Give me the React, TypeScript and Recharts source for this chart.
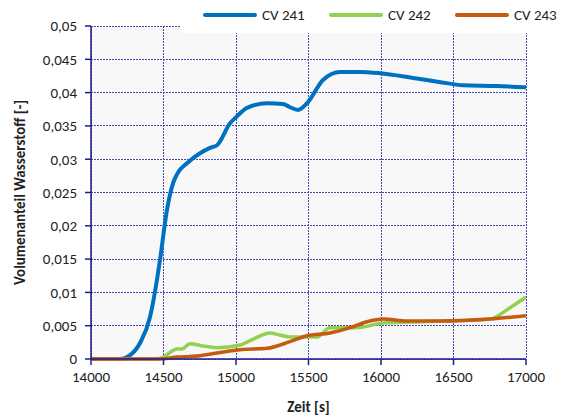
import React from "react";
import {
  LineChart,
  Line,
  XAxis,
  YAxis,
  CartesianGrid,
} from "recharts";

const cv241Time = [14000, 14200, 14250, 14338, 14407, 14455, 14476, 14524, 14566, 14600, 14662, 14752, 14821, 14869, 14959, 15000, 15076, 15214, 15324, 15372, 15428, 15490, 15600, 15717, 15855, 15993, 16221, 16400, 16566, 16800, 17000];
const cv241Vals = [0, 0, 0.0003, 0.0024, 0.0063, 0.0119, 0.0149, 0.0224, 0.0264, 0.028, 0.0294, 0.0309, 0.0317, 0.0321, 0.0354, 0.0363, 0.0377, 0.0384, 0.0383, 0.0378, 0.0374, 0.0384, 0.0419, 0.0431, 0.0431, 0.0429, 0.0422, 0.0416, 0.0411, 0.041, 0.0408];

const cv242Time = [14000, 14450, 14500, 14593, 14628, 14683, 14760, 14869, 15028, 15120, 15234, 15300, 15372, 15559, 15648, 15834, 16014, 16290, 16600, 16752, 16890, 17000];
const cv242Vals = [0, 0, 0.0003, 0.0015, 0.0015, 0.0023, 0.002, 0.0017, 0.0021, 0.003, 0.0039, 0.0036, 0.0033, 0.0033, 0.0047, 0.0047, 0.0054, 0.0056, 0.0058, 0.006, 0.0077, 0.0093];

const cv243Time = [14000, 14480, 14593, 14704, 14869, 15028, 15214, 15372, 15490, 15648, 15786, 15903, 16014, 16179, 16407, 16752, 17000];
const cv243Vals = [0, 0, 0.0003, 0.0004, 0.0009, 0.0014, 0.0016, 0.0026, 0.0035, 0.0039, 0.0047, 0.0056, 0.006, 0.0057, 0.0057, 0.006, 0.0065];

const xTicks = [14000, 14500, 15000, 15500, 16000, 16500, 17000];
const yTicks = [0, 0.005, 0.01, 0.015, 0.02, 0.025, 0.03, 0.035, 0.04, 0.045, 0.05];

const seriesNames = ["CV 241", "CV 242", "CV 243"];
const seriesColors = ["#0070c0", "#92d050", "#c55a11"];

const toRows = (time: number[], vals: number[]) =>
  time.map((t, i) => ({ t, v: vals[i] }));

const series = [
  toRows(cv241Time, cv241Vals),
  toRows(cv242Time, cv242Vals),
  toRows(cv243Time, cv243Vals),
];

const font = "Carlito, Calibri, 'Open Sans', sans-serif";
const navy = "#1c1c8c";

const fmtY = (v: number) =>
  v === 0 ? "0" : String(Number(v.toFixed(3))).replace(".", ",");

// legend sits on a white box that hides the top of the plot, like the original
function LegendBox() {
  return (
    <div
      style={{
        position: "absolute",
        left: 180,
        top: 0,
        width: 384,
        height: 33,
        background: "#fff",
        fontFamily: font,
        fontSize: 15,
        color: "#222",
      }}
    >
      {seriesNames.map((name, i) => (
        <div
          key={name}
          style={{
            position: "absolute",
            left: 22 + i * 126,
            top: 6,
            display: "flex",
            alignItems: "center",
          }}
        >
          <svg width={56} height={8} style={{ marginRight: 4 }}>
            <line x1={3} y1={4} x2={53} y2={4} stroke={seriesColors[i]} strokeWidth={4} strokeLinecap="round" />
          </svg>
          <span>{name}</span>
        </div>
      ))}
    </div>
  );
}

export default function App() {
  return (
    <div style={{ position: "absolute", left: 0, top: 0, width: 564, height: 419, background: "#fff" }}>
      <LineChart
        width={564}
        height={419}
        margin={{ top: 26, right: 38, bottom: 6, left: 26 }}
      >
        <CartesianGrid
          fill="#f8f8f8"
          stroke="#4a4ab4"
          strokeDasharray="2 1"
          strokeWidth={1}
          shapeRendering="crispEdges"
        />
        <XAxis
          type="number"
          dataKey="t"
          domain={[14000, 17000]}
          ticks={xTicks}
          allowDataOverflow
          stroke={navy}
          strokeWidth={1.5}
          tickSize={6}
          tickMargin={6}
          tick={{ fill: "#222", fontSize: 15, fontFamily: font }}
          height={54}
          label={{
            value: "Zeit [s]",
            position: "insideBottom",
            offset: 1,
            style: { fontWeight: "bold", fontSize: 15, fontFamily: font, fill: "#222" },
          }}
        />
        <YAxis
          type="number"
          domain={[0, 0.05]}
          ticks={yTicks}
          tickFormatter={fmtY}
          stroke={navy}
          strokeWidth={1.5}
          tickSize={6}
          tickMargin={8}
          tick={{ fill: "#222", fontSize: 15, fontFamily: font }}
          width={65}
          label={{
            value: "Volumenanteil Wasserstoff [-]",
            angle: -90,
            position: "insideLeft",
            offset: -6,
            style: { textAnchor: "middle", fontWeight: "bold", fontSize: 15, fontFamily: font, fill: "#222" },
          }}
        />
        {series.map((rows, i) => (
          <Line
            key={seriesNames[i]}
            data={rows}
            dataKey="v"
            name={seriesNames[i]}
            type="monotone"
            stroke={seriesColors[i]}
            strokeWidth={i === 0 ? 4 : 3.5}
            dot={false}
            isAnimationActive={false}
          />
        ))}
      </LineChart>
      <LegendBox />
    </div>
  );
}
